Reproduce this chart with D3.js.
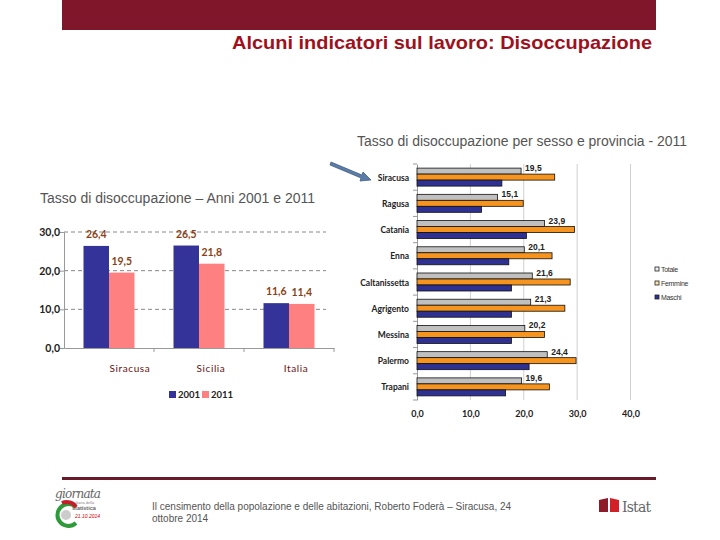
<!DOCTYPE html>
<html><head><meta charset="utf-8">
<script src="https://cdn.jsdelivr.net/npm/d3@7"></script>
<style>body{margin:0;background:#fff}svg{display:block}</style>
</head><body>
<svg id="c" width="720" height="540"></svg>
<script>
// Left chart data
const leftCategories = ["Siracusa", "Sicilia", "Italia"];
const leftYears = ["2001", "2011"];
const values2001 = [26.4, 26.5, 11.6];
const values2011 = [19.5, 21.8, 11.4];
const leftTicks = [0, 10, 20, 30];

// Right chart data
const provinces = ["Siracusa","Ragusa","Catania","Enna","Caltanissetta","Agrigento","Messina","Palermo","Trapani"];
const seriesNames = ["Totale","Femmine","Maschi"];
const totale  = [19.5, 15.1, 23.9, 20.1, 21.6, 21.3, 20.2, 24.4, 19.6];
const femmine = [25.8, 19.9, 29.5, 25.3, 28.7, 27.7, 23.9, 29.8, 24.8];
const maschi  = [15.9, 12.1, 20.5, 17.2, 17.7, 17.7, 17.7, 21.0, 16.6];
const rightTicks = [0, 10, 20, 30, 40];

const fmt = v => d3.format(".1f")(v).replace(".", ",");
const svg = d3.select("#c");

// Header
svg.append("rect").attr("x",62).attr("y",0).attr("width",594).attr("height",30).attr("fill","#7f1629");
svg.append("text").attr("x",232).attr("y",49)
  .attr("font-family","Liberation Sans Narrow, Liberation Sans, Arial, sans-serif").attr("font-weight","bold").attr("font-size",19)
  .attr("textLength",420).attr("lengthAdjust","spacingAndGlyphs")
  .attr("fill","#a0101c").text("Alcuni indicatori sul lavoro: Disoccupazione");

// Titles
svg.append("text").attr("x",40).attr("y",203).attr("font-family","Liberation Sans, Arial, sans-serif")
  .attr("font-size",14).attr("fill","#555").attr("textLength",275).attr("lengthAdjust","spacingAndGlyphs")
  .text("Tasso di disoccupazione – Anni 2001 e 2011");
svg.append("text").attr("x",357).attr("y",146).attr("font-family","Liberation Sans, Arial, sans-serif")
  .attr("font-size",14).attr("fill","#555").attr("textLength",330).attr("lengthAdjust","spacingAndGlyphs")
  .text("Tasso di disoccupazione per sesso e provincia - 2011");

// ---------- Left chart ----------
const lx = d3.scaleBand().domain(leftCategories).range([64, 334]);
const lsub = d3.scaleBand().domain(leftYears).range([(lx.bandwidth()-51)/2, (lx.bandwidth()+51)/2]);
const ly = d3.scaleLinear().domain([0, 30]).range([348, 232]);
const leftColors = {"2001":"#333399","2011":"#ff8080"};
const L = svg.append("g");
L.selectAll(".grid").data(leftTicks.filter(t=>t>0)).join("line")
  .attr("x1",64).attr("x2",326).attr("y1",d=>ly(d)).attr("y2",d=>ly(d))
  .attr("stroke","#888").attr("stroke-dasharray","4,3").attr("stroke-width",1);
const lyAxis = L.append("g").attr("transform","translate(64,0)")
  .call(d3.axisLeft(ly).tickValues(leftTicks).tickFormat(fmt).tickSize(4));
lyAxis.select(".domain").attr("stroke","#999");
lyAxis.selectAll(".tick line").attr("stroke","#999");
lyAxis.selectAll("text").attr("font-family","Lato, sans-serif").attr("font-weight","bold")
  .attr("font-size",10.5).attr("fill","#222").attr("x",-4);
const lxAxis = L.append("g").attr("transform","translate(0,348)")
  .call(d3.axisBottom(lx).tickSize(0).tickFormat(""));
lxAxis.select(".domain").attr("stroke","#999");
L.selectAll(".btick").data(leftCategories).join("line")
  .attr("x1",d=>lx(d)+lx.bandwidth()).attr("x2",d=>lx(d)+lx.bandwidth())
  .attr("y1",348).attr("y2",352).attr("stroke","#999");
const leftData = leftCategories.flatMap((c,i)=>[{c,y:"2001",v:values2001[i]},{c,y:"2011",v:values2011[i]}]);
L.selectAll(".bar").data(leftData).join("rect")
  .attr("x",d=>lx(d.c)+lsub(d.y)).attr("width",lsub.bandwidth())
  .attr("y",d=>ly(d.v)).attr("height",d=>ly(0)-ly(d.v)).attr("fill",d=>leftColors[d.y]);
L.selectAll(".lbl").data(leftData).join("text")
  .attr("x",d=>lx(d.c)+lsub(d.y)+lsub.bandwidth()/2).attr("y",d=>ly(d.v)-8)
  .attr("text-anchor","middle").attr("font-family","Lato, sans-serif").attr("font-weight","bold")
  .attr("font-size",10.5).attr("fill","#8a3f17").text(d=>fmt(d.v));
L.selectAll(".cat").data(leftCategories).join("text")
  .attr("x",(d,i)=>lx(d)+lx.bandwidth()/2+[21,12,7][i]).attr("y",372)
  .attr("text-anchor","middle").attr("font-family","Lato, sans-serif")
  .attr("font-size",10).attr("fill","#6b1010").attr("letter-spacing",0.6).text(d=>d);
const lleg = L.append("g").selectAll("g").data(leftYears).join("g")
  .attr("transform",(d,i)=>`translate(169,391) translate(${i*33},0)`);
lleg.append("rect").attr("width",7).attr("height",7).attr("fill",d=>leftColors[d]);
lleg.append("text").attr("x",9).attr("y",7).attr("font-family","Lato, sans-serif").attr("font-weight","bold")
  .attr("font-size",9.5).attr("fill","#222").text(d=>d);

// ---------- Right chart ----------
const rx = d3.scaleLinear().domain([0, 40]).range([417, 630.5]);
const ry = d3.scaleBand().domain(provinces).range([164, 400]);
const rsub = d3.scaleBand().domain(seriesNames).range([(ry.bandwidth()-18)/2, (ry.bandwidth()+18)/2]);
const rightColors = {"Totale":"#c0c0c0","Femmine":"#f7941d","Maschi":"#2e3192"};
const R = svg.append("g");
R.selectAll(".vg").data(rightTicks.filter(t=>t>0)).join("line")
  .attr("x1",d=>rx(d)).attr("x2",d=>rx(d)).attr("y1",164).attr("y2",400)
  .attr("stroke","#d0d0d0");
const rAxisY = R.append("g").attr("transform",`translate(${rx(0)},0)`)
  .call(d3.axisLeft(ry).tickSize(0).tickFormat(""));
rAxisY.select(".domain").attr("stroke","#999");
R.selectAll(".ltick").data([provinces[0]].concat(provinces)).join("line")
  .attr("x1",rx(0)-4).attr("x2",rx(0))
  .attr("y1",(d,i)=> i===0 ? ry(d) : ry(d)+ry.bandwidth())
  .attr("y2",(d,i)=> i===0 ? ry(d) : ry(d)+ry.bandwidth()).attr("stroke","#999");
const rAxisX = R.append("g").attr("transform","translate(0,400)")
  .call(d3.axisBottom(rx).tickValues(rightTicks).tickFormat(fmt).tickSize(0));
rAxisX.select(".domain").remove();
rAxisX.selectAll("text").attr("font-family","Lato, sans-serif").attr("font-weight","bold")
  .attr("font-size",9).attr("fill","#222").attr("y",11);
const rightData = provinces.flatMap((p,i)=>[
  {p,s:"Totale",v:totale[i]},{p,s:"Femmine",v:femmine[i]},{p,s:"Maschi",v:maschi[i]}]);
R.selectAll(".hb").data(rightData).join("rect")
  .attr("x",rx(0)).attr("y",d=>ry(d.p)+rsub(d.s)).attr("height",rsub.bandwidth())
  .attr("width",d=>rx(d.v)-rx(0)).attr("fill",d=>rightColors[d.s])
  .attr("stroke","#111").attr("stroke-width",0.8);
R.selectAll(".tl").data(provinces).join("text")
  .attr("x",(d,i)=>rx(totale[i])+4).attr("y",d=>ry(d)+rsub("Totale")+3)
  .attr("font-family","Liberation Sans, Arial, sans-serif").attr("font-weight","bold")
  .attr("font-size",8.5).attr("fill","#222").text((d,i)=>fmt(totale[i]));
R.selectAll(".pl").data(provinces).join("text")
  .attr("x",409).attr("y",d=>ry(d)+ry.bandwidth()/2+3.5).attr("text-anchor","end")
  .attr("font-family","Lato, sans-serif").attr("font-weight","bold")
  .attr("font-size",8.5).attr("fill","#222").text(d=>d);
const rleg = R.append("g").selectAll("g").data(seriesNames).join("g")
  .attr("transform",(d,i)=>`translate(655,267) translate(0,${i*14})`);
rleg.append("rect").attr("width",4).attr("height",4).attr("fill",(d,i)=>["#eee","#f5e6b0","#2e3192"][i])
  .attr("stroke","#222").attr("stroke-width",0.8);
rleg.append("text").attr("x",6).attr("y",5).attr("font-family","Liberation Sans, Arial, sans-serif")
  .attr("font-size",7).attr("fill","#333").attr("letter-spacing",-0.3).text(d=>d);

// Arrow
svg.append("path")
  .attr("d","M331,162 L362,175 L363,172 L371,180 L360,181 L361,178 L330,165 Z")
  .attr("fill","#5a7ca8").attr("stroke","#3a5478").attr("stroke-width",0.7);

// Footer
svg.append("rect").attr("x",62).attr("y",477).attr("width",594).attr("height",3).attr("fill","#6b1a2a");
svg.append("text").attr("x",152).attr("y",510).attr("font-family","Liberation Sans, Arial, sans-serif")
  .attr("font-size",10).attr("fill","#555").text("Il censimento della popolazione e delle abitazioni, Roberto Foderà – Siracusa, 24");
svg.append("text").attr("x",152).attr("y",522).attr("font-family","Liberation Sans, Arial, sans-serif")
  .attr("font-size",10).attr("fill","#555").text("ottobre 2014");
// left logo
const lg = svg.append("g");
lg.append("text").attr("x",55).attr("y",498).attr("font-family","DejaVu Serif, serif").attr("font-style","italic")
  .attr("font-size",12).attr("fill","#666").attr("textLength",46).text("giornata");
lg.append("text").attr("x",72).attr("y",504).attr("font-family","Liberation Sans, Arial, sans-serif")
  .attr("font-size",4).attr("fill","#888").text("italiana della");
lg.append("text").attr("x",72).attr("y",510).attr("font-family","Liberation Sans, Arial, sans-serif")
  .attr("font-size",5.5).attr("font-weight","bold").attr("fill","#666").text("statistica");
lg.append("path").attr("d","M76,507 A11,11 0 1 0 76,523").attr("fill","none").attr("stroke","#2f9a3a").attr("stroke-width",4);
lg.append("path").attr("d","M62,503 A11,11 0 0 1 76,507").attr("fill","none").attr("stroke","#c41e2a").attr("stroke-width",4);
lg.append("circle").attr("cx",66).attr("cy",515).attr("r",5).attr("fill","#ccc");
lg.append("text").attr("x",75).attr("y",518).attr("font-family","Liberation Sans, Arial, sans-serif")
  .attr("font-size",5).attr("font-style","italic").attr("fill","#c00").text("21.10.2014");
// Istat logo
const ig = svg.append("g");
ig.append("path").attr("d","M599,500 L608,498 L608,512 L599,512 Z").attr("fill","#8e1a2a");
ig.append("path").attr("d","M610,498 L619,500 L619,512 L610,512 Z").attr("fill","#d41f26");
ig.append("text").attr("x",622).attr("y",512).attr("font-family","DejaVu Serif, serif")
  .attr("font-size",14).attr("fill","#666").attr("letter-spacing",-0.8).text("Istat");
</script>
</body></html>
